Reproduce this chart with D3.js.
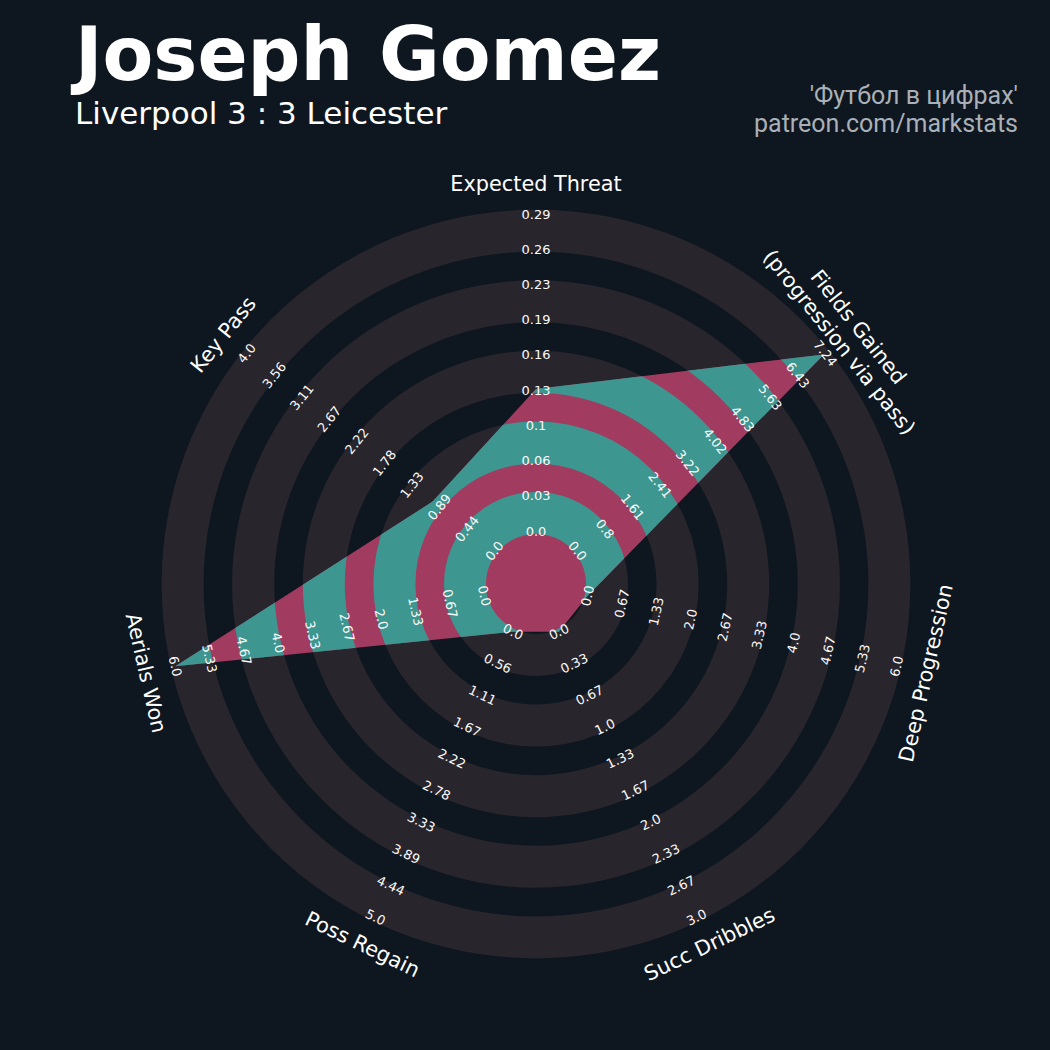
<!DOCTYPE html>
<html>
<head>
<meta charset="utf-8">
<script src="https://cdn.jsdelivr.net/npm/d3@7"></script>
<style>
  body { margin: 0; background: #0e1720; }
  svg { display: block; }
</style>
</head>
<body>
<div id="chart"></div>
<script>
// radar data
const params = ["Expected Threat", "Fields Gained\n(progression via pass)", "Deep Progression",
                "Succ Dribbles", "Poss Regain", "Aerials Won", "Key Pass"];
const lowRange = [0, 0, 0, 0, 0, 0, 0];
const highRange = [0.29, 7.24, 6, 3, 5, 6, 4];
const values = [0.13, 7.2, 0, 0, 0, 6, 1];
const rangeLabels = [
  ["0.0", "0.03", "0.06", "0.1", "0.13", "0.16", "0.19", "0.23", "0.26", "0.29"],
  ["0.0", "0.8", "1.61", "2.41", "3.22", "4.02", "4.83", "5.63", "6.43", "7.24"],
  ["0.0", "0.67", "1.33", "2.0", "2.67", "3.33", "4.0", "4.67", "5.33", "6.0"],
  ["0.0", "0.33", "0.67", "1.0", "1.33", "1.67", "2.0", "2.33", "2.67", "3.0"],
  ["0.0", "0.56", "1.11", "1.67", "2.22", "2.78", "3.33", "3.89", "4.44", "5.0"],
  ["0.0", "0.67", "1.33", "2.0", "2.67", "3.33", "4.0", "4.67", "5.33", "6.0"],
  ["0.0", "0.44", "0.89", "1.33", "1.78", "2.22", "2.67", "3.11", "3.56", "4.0"]
];
const title = "Joseph Gomez";
const subtitle = "Liverpool 3 : 3 Leicester";
const credits = ["'Футбол в цифрах'", "patreon.com/markstats"];

const width = 1050, height = 1050;
const cx = 536, cy = 584;
const rInner = 53, rOuter = 370;     // radius of min / max value
const ringStart = 50, ringStep = 70.6, ringWidth = 42, numRings = 5;
const labelRadius = 400;

const bg = "#0e1720", ringColor = "#28252c";
const radarColor = "#a23b60", radarRingColor = "#3d968f";

const svg = d3.select("#chart")
  .append("svg")
    .attr("width", width)
    .attr("height", height);

svg.append("rect")
  .attr("width", width)
  .attr("height", height)
  .attr("fill", bg);

const g = svg.append("g")
  .attr("transform", "translate(" + cx + "," + cy + ")");

// angle of each param, clockwise from the top
const angle = d3.scaleLinear()
  .domain([0, params.length])
  .range([0, 2 * Math.PI]);

// one radial scale per param
const rScales = params.map((p, i) => d3.scaleLinear()
  .domain([lowRange[i], highRange[i]])
  .range([rInner, rOuter]));

// position of the range labels, by index
const rTick = d3.scaleLinear()
  .domain([0, 9])
  .range([rInner, rOuter]);

const rings = d3.range(numRings).map(k => ({
  inner: ringStart + k * ringStep,
  outer: ringStart + k * ringStep + ringWidth
}));

const arc = d3.arc()
  .innerRadius(d => d.inner)
  .outerRadius(d => d.outer)
  .startAngle(0)
  .endAngle(2 * Math.PI);

// background rings
g.append("g")
  .selectAll("path")
  .data(rings)
  .enter()
  .append("path")
    .attr("d", arc)
    .attr("fill", ringColor);

// radar polygon
const radarLine = d3.lineRadial()
  .angle((d, i) => angle(i))
  .radius((d, i) => rScales[i](d))
  .curve(d3.curveLinearClosed);

svg.append("clipPath")
    .attr("id", "radar-clip")
  .append("path")
    .attr("d", radarLine(values));

const radar = g.append("g")
  .attr("clip-path", "url(#radar-clip)");

radar.append("circle")
  .attr("r", rOuter + 10)
  .attr("fill", radarColor);

radar.selectAll("path.ring")
  .data(rings)
  .enter()
  .append("path")
    .attr("class", "ring")
    .attr("d", arc)
    .attr("fill", radarRingColor);

function rotationFor(a) {
  let deg = a * 180 / Math.PI;
  if (deg > 90 && deg < 270) deg -= 180;
  return deg;
}

function pos(a, r) {
  return [r * Math.sin(a), -r * Math.cos(a)];
}

// range labels
params.forEach((p, i) => {
  const a = angle(i);
  const rot = rotationFor(a);
  g.append("g")
    .selectAll("text")
    .data(rangeLabels[i])
    .enter()
    .append("text")
      .attr("transform", (d, j) => {
        const [x, y] = pos(a, rTick(j));
        return "translate(" + x + "," + y + ") rotate(" + rot + ")";
      })
      .attr("text-anchor", "middle")
      .attr("dominant-baseline", "central")
      .attr("font-family", "DejaVu Sans")
      .attr("font-size", 13)
      .attr("fill", "#fafafa")
      .text(d => d);
});

// param labels
params.forEach((p, i) => {
  const a = angle(i);
  const [x, y] = pos(a, labelRadius);
  const lines = p.split("\n");
  const lh = 24.5;
  const t = g.append("text")
    .attr("transform", "translate(" + x + "," + y + ") rotate(" + rotationFor(a) + ")")
    .attr("text-anchor", "middle")
    .attr("dominant-baseline", "central")
    .attr("font-family", "DejaVu Sans")
    .attr("font-size", 20.8)
    .attr("fill", "#ffffff");
  lines.forEach((line, k) => {
    t.append("tspan")
      .attr("x", 0)
      .attr("y", (k - (lines.length - 1) / 2) * lh)
      .text(line);
  });
});

// titles
svg.append("text")
  .attr("x", 75)
  .attr("y", 80)
  .attr("font-family", "DejaVu Sans")
  .attr("font-weight", "bold")
  .attr("font-size", 74)
  .attr("fill", "#ffffff")
  .text(title);

svg.append("text")
  .attr("x", 75)
  .attr("y", 124)
  .attr("font-family", "DejaVu Sans")
  .attr("font-size", 31)
  .attr("fill", "#ffffff")
  .text(subtitle);

svg.append("g")
  .selectAll("text")
  .data(credits)
  .enter()
  .append("text")
    .attr("x", 1018)
    .attr("y", (d, i) => 104 + i * 28)
    .attr("text-anchor", "end")
    .attr("font-family", "Roboto")
    .attr("font-size", 25)
    .attr("fill", "#aab0b6")
    .text(d => d);
</script>
</body>
</html>
